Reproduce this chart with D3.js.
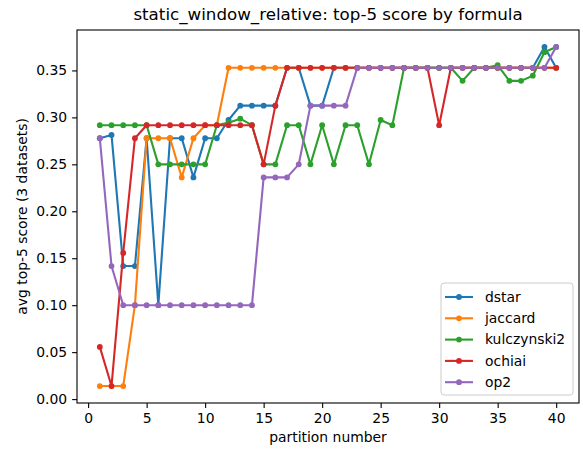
<!DOCTYPE html>
<html>
<head>
<meta charset="utf-8">
<script src="https://cdn.jsdelivr.net/npm/d3@7"></script>
<style>
  body { margin: 0; background: #fff; }
  text { font-family: "DejaVu Sans", sans-serif; fill: #000; }
</style>
</head>
<body>
<div id="grafico"></div>
<script>
const WIDTH = 583;
const HEIGHT = 451;

// partition numbers on the x axis
const partitions = [1,2,3,4,5,6,7,8,9,10,11,12,13,14,15,16,17,18,19,20,
                    21,22,23,24,25,26,27,28,29,30,31,32,33,34,35,36,37,38,39,40];

const dstar = [0.2778,0.2813,0.1417,0.1417,0.2778,0.1000,0.2778,0.2778,0.2361,0.2778,
               0.2778,0.2972,0.3125,0.3125,0.3125,0.3125,0.3528,0.3528,0.3125,0.3125,
               0.3528,0.3528,0.3528,0.3528,0.3528,0.3528,0.3528,0.3528,0.3528,0.3528,
               0.3528,0.3528,0.3528,0.3528,0.3528,0.3528,0.3528,0.3528,0.3750,0.3528];

const jaccard = [0.0139,0.0139,0.0139,0.1000,0.2778,0.2778,0.2778,0.2361,0.2778,0.2917,
                 0.2917,0.3528,0.3528,0.3528,0.3528,0.3528,0.3528,0.3528,0.3528,0.3528,
                 0.3528,0.3528,0.3528,0.3528,0.3528,0.3528,0.3528,0.3528,0.3528,0.3528,
                 0.3528,0.3528,0.3528,0.3528,0.3528,0.3528,0.3528,0.3528,0.3528,0.3528];

const kulczynski2 = [0.2917,0.2917,0.2917,0.2917,0.2917,0.2500,0.2500,0.2500,0.2500,0.2500,
                     0.2917,0.2944,0.2986,0.2917,0.2500,0.2500,0.2917,0.2917,0.2500,0.2917,
                     0.2500,0.2917,0.2917,0.2500,0.2972,0.2917,0.3528,0.3528,0.3528,0.3528,
                     0.3528,0.3389,0.3528,0.3528,0.3556,0.3389,0.3389,0.3444,0.3694,0.3750];

const ochiai = [0.0556,0.0139,0.1556,0.2778,0.2917,0.2917,0.2917,0.2917,0.2917,0.2917,
                0.2917,0.2917,0.2917,0.2917,0.2500,0.3125,0.3528,0.3528,0.3528,0.3528,
                0.3528,0.3528,0.3528,0.3528,0.3528,0.3528,0.3528,0.3528,0.3528,0.2917,
                0.3528,0.3528,0.3528,0.3528,0.3528,0.3528,0.3528,0.3528,0.3528,0.3528];

const op2 = [0.2778,0.1417,0.1000,0.1000,0.1000,0.1000,0.1000,0.1000,0.1000,0.1000,
             0.1000,0.1000,0.1000,0.1000,0.2361,0.2361,0.2361,0.2500,0.3125,0.3125,
             0.3125,0.3125,0.3528,0.3528,0.3528,0.3528,0.3528,0.3528,0.3528,0.3528,
             0.3528,0.3528,0.3528,0.3528,0.3528,0.3528,0.3528,0.3528,0.3528,0.3750];

const seriesNames = ["dstar","jaccard","kulczynski2","ochiai","op2"];
const seriesColors = ["#1f77b4","#ff7f0e","#2ca02c","#d62728","#9467bd"];
const xTicks = [0,5,10,15,20,25,30,35,40];
const yTicks = [0.00,0.05,0.10,0.15,0.20,0.25,0.30,0.35];

const titleText = "static_window_relative: top-5 score by formula";
const xLabel = "partition number";
const yLabel = "avg top-5 score (3 datasets)";

let allSeries = [dstar,jaccard,kulczynski2,ochiai,op2];

let margin = {left:77, right:4, top:30, bottom:48};
let plotW = WIDTH - margin.left - margin.right;
let plotH = HEIGHT - margin.top - margin.bottom;

let svg = d3.select("#grafico")
    .append("svg")
    .attr("width",WIDTH)
    .attr("height",HEIGHT);

// matplotlib style 5% padding
let xExt = d3.extent(partitions);
let xPad = (xExt[1]-xExt[0])*0.05;
let yExt = d3.extent(allSeries.flat());
let yPad = (yExt[1]-yExt[0])*0.05;

let x = d3.scaleLinear()
    .domain([xExt[0]-xPad,xExt[1]+xPad])
    .range([margin.left,margin.left+plotW]);

let y = d3.scaleLinear()
    .domain([yExt[0]-yPad,yExt[1]+yPad])
    .range([margin.top+plotH,margin.top]);

let xAxis = svg.append("g")
    .attr("transform","translate(0,"+(margin.top+plotH)+")")
    .call(d3.axisBottom(x).tickValues(xTicks).tickSize(4.9).tickPadding(4.9).tickFormat(d3.format("d")));

let yAxis = svg.append("g")
    .attr("transform","translate("+margin.left+",0)")
    .call(d3.axisLeft(y).tickValues(yTicks).tickSize(4.9).tickPadding(4.9).tickFormat(d3.format(".2f")));

[xAxis,yAxis].forEach((ax)=>{
    ax.select(".domain").remove();
    ax.selectAll(".tick line").attr("stroke","#000").attr("stroke-width",1.1);
    ax.selectAll(".tick text")
        .style("font-family","DejaVu Sans")
        .style("font-size","13.9px")
        .attr("fill","#000");
});

let lineGen = d3.line()
    .x((d,i)=>x(partitions[i]))
    .y((d)=>y(d));

let plot = svg.append("g");

allSeries.forEach((values,k)=>{
    let g = plot.append("g").attr("class","series");
    g.append("path")
        .datum(values)
        .attr("d",lineGen)
        .attr("fill","none")
        .attr("stroke",seriesColors[k])
        .attr("stroke-width",2.1)
        .attr("stroke-linejoin","round")
        .attr("stroke-linecap","square");
    g.selectAll("circle")
        .data(values)
        .enter()
        .append("circle")
        .attr("cx",(d,i)=>x(partitions[i]))
        .attr("cy",(d)=>y(d))
        .attr("r",2.9)
        .attr("fill",seriesColors[k]);
});

// frame
svg.append("rect")
    .attr("x",margin.left)
    .attr("y",margin.top)
    .attr("width",plotW)
    .attr("height",plotH)
    .attr("fill","none")
    .attr("stroke","#000")
    .attr("stroke-width",1.1);

svg.append("text")
    .attr("x",margin.left+plotW/2)
    .attr("y",20)
    .attr("text-anchor","middle")
    .style("font-size","16.7px")
    .text(titleText);

svg.append("text")
    .attr("x",margin.left+plotW/2)
    .attr("y",442)
    .attr("text-anchor","middle")
    .style("font-size","13.9px")
    .text(xLabel);

svg.append("text")
    .attr("transform","translate(27,"+(margin.top+plotH/2)+") rotate(-90)")
    .attr("text-anchor","middle")
    .style("font-size","13.9px")
    .text(yLabel);

// legend
let legend = svg.append("g").attr("transform","translate(441,283)");
legend.append("rect")
    .attr("width",132)
    .attr("height",112)
    .attr("rx",3)
    .attr("fill","#fff")
    .attr("fill-opacity",0.8)
    .attr("stroke","#ccc")
    .attr("stroke-width",1);

seriesNames.forEach((name,k)=>{
    let row = legend.append("g").attr("transform","translate(0,"+(14+k*21.3)+")");
    row.append("line")
        .attr("x1",4).attr("x2",32)
        .attr("y1",0).attr("y2",0)
        .attr("stroke",seriesColors[k])
        .attr("stroke-width",2.1);
    row.append("circle")
        .attr("cx",18).attr("cy",0).attr("r",2.9)
        .attr("fill",seriesColors[k]);
    row.append("text")
        .attr("x",44)
        .attr("y",0)
        .attr("dy","0.35em")
        .style("font-size","13.9px")
        .text(name);
});
</script>
</body>
</html>
